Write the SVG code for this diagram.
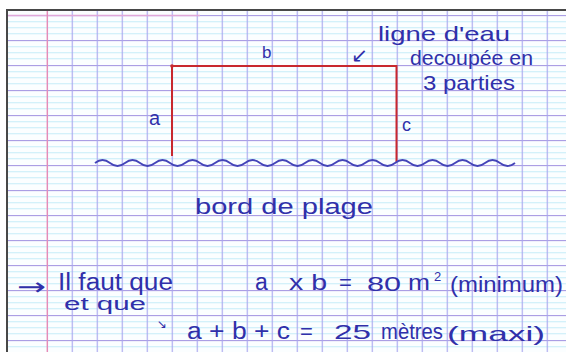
<svg xmlns="http://www.w3.org/2000/svg" width="566" height="352" viewBox="0 0 566 352">
  <defs>
    <pattern id="hlines" patternUnits="userSpaceOnUse" x="0" y="15" width="25" height="25">
      <line x1="0" y1="6.75" x2="25" y2="6.75" stroke="#c6ecf8" stroke-width="1"/>
      <line x1="0" y1="12.75" x2="25" y2="12.75" stroke="#c6ecf8" stroke-width="1"/>
      <line x1="0" y1="18.75" x2="25" y2="18.75" stroke="#c6ecf8" stroke-width="1"/>
      <line x1="0" y1="0.5" x2="25" y2="0.5" stroke="#ab9ee4" stroke-width="1.3"/>
    </pattern>
    <pattern id="vlines" patternUnits="userSpaceOnUse" x="46.7" y="0" width="25" height="25">
      <line x1="0.5" y1="0" x2="0.5" y2="25" stroke="#a7a5ee" stroke-width="1.2"/>
    </pattern>
    <style>
      .ink { fill: #3030aa; font-family: "Liberation Sans", "DejaVu Sans", sans-serif; }
      .sym { fill: #3030aa; font-family: "DejaVu Sans", sans-serif; }
      .red { stroke: #c8282e; stroke-width: 2; fill: none; }
    </style>
  </defs>
  <rect width="566" height="352" fill="#ffffff"/>
  <g id="paper">
    <rect x="8" y="11" width="558" height="341" fill="#fbfeff"/>
    <rect x="8" y="15" width="558" height="337" fill="url(#hlines)"/>
    <rect x="47" y="11" width="519" height="341" fill="url(#vlines)"/>
    <line x1="8" y1="15.5" x2="200" y2="15.5" stroke="#e0a8da" stroke-width="1.3"/>
    <line x1="47.3" y1="11" x2="47.3" y2="352" stroke="#e58cb8" stroke-width="1.4"/>
    <path d="M6,10 H566 M7,10 V352" stroke="#484848" stroke-width="2" fill="none"/>
  </g>
  <g id="figure">
    <path class="red" d="M172,156 V66 H396.5 V162"/>
    <circle cx="172" cy="66" r="1.8" fill="#c8282e"/>
    <path d="M95,163 q7.5,-6 15,0 t15,0 t15,0 t15,0 t15,0 t15,0 t15,0 t15,0 t15,0 t15,0 t15,0 t15,0 t15,0 t15,0 t15,0 t15,0 t15,0 t15,0 t15,0 t15,0 t15,0 t15,0 t15,0 t15,0 t15,0 t15,0 t15,0 t15,0" stroke="#4444b8" stroke-width="1.8" fill="none"/>
  </g>
  <g id="labels">
    <text class="ink" x="262" y="58" font-size="17">b</text>
    <text class="ink" x="149" y="125" font-size="20">a</text>
    <text class="ink" x="402" y="131" font-size="18">c</text>
    <text class="sym" x="351" y="62" font-size="20">↙</text>
    <text class="ink" x="378" y="41" font-size="21" textLength="132" lengthAdjust="spacingAndGlyphs">ligne d'eau</text>
    <text class="ink" x="410" y="65" font-size="21" textLength="123" lengthAdjust="spacingAndGlyphs">decoupée en</text>
    <text class="ink" x="423" y="90" font-size="21" textLength="92" lengthAdjust="spacingAndGlyphs">3 parties</text>
    <text class="ink" x="195" y="214" font-size="22" textLength="178" lengthAdjust="spacingAndGlyphs">bord de plage</text>
  </g>
  <g id="equations">
    <text class="sym" x="17" y="295" font-size="24" textLength="29" lengthAdjust="spacingAndGlyphs">→</text>
    <text class="ink" x="58" y="290" font-size="23" textLength="115" lengthAdjust="spacingAndGlyphs">Il faut que</text>
    <text class="ink" x="255" y="290" font-size="23">a</text>
    <text class="ink" x="289" y="290" font-size="22" textLength="38" lengthAdjust="spacingAndGlyphs">x b</text>
    <text class="ink" x="339" y="290" font-size="22">=</text>
    <text class="ink" x="367" y="291" font-size="21" textLength="34" lengthAdjust="spacingAndGlyphs">80</text>
    <text class="ink" x="408" y="290" font-size="22" textLength="22" lengthAdjust="spacingAndGlyphs">m</text>
    <text class="ink" x="434" y="281" font-size="13">2</text>
    <text class="ink" x="450" y="292" font-size="22" textLength="113" lengthAdjust="spacingAndGlyphs">(minimum)</text>
    <text class="ink" x="64" y="310" font-size="18" textLength="82" lengthAdjust="spacingAndGlyphs">et que</text>
    <text class="sym" x="157" y="328" font-size="12">↘</text>
    <text class="ink" x="187" y="339" font-size="23" textLength="103" lengthAdjust="spacingAndGlyphs">a + b + c</text>
    <text class="ink" x="300" y="339" font-size="22">=</text>
    <text class="ink" x="334" y="339" font-size="21" textLength="37" lengthAdjust="spacingAndGlyphs">25</text>
    <text class="ink" x="381" y="339" font-size="22" textLength="62" lengthAdjust="spacingAndGlyphs">mètres</text>
    <text class="ink" x="447" y="341" font-size="21" textLength="98" lengthAdjust="spacingAndGlyphs">(maxi)</text>
  </g>
</svg>
